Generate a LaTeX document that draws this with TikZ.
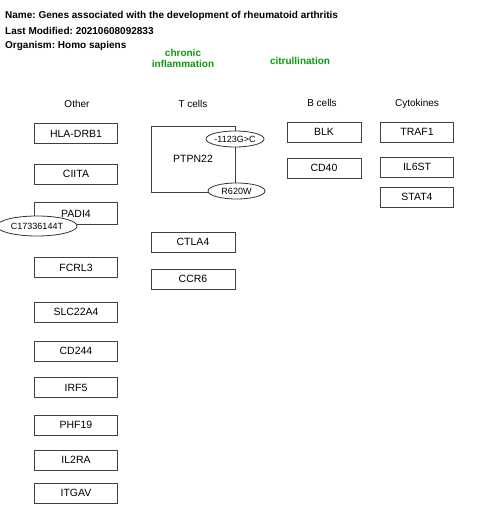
\documentclass[tikz,border=0pt]{standalone}
\usepackage{fontspec}
\setmainfont{Liberation Sans}
\usetikzlibrary{shapes.geometric}
\definecolor{labgreen}{RGB}{17,153,17}
\frenchspacing
\begin{document}
\begin{tikzpicture}[x=1pt,y=-1pt,
  gene/.style={draw=black!75,line width=0.8pt,minimum height=20pt,inner sep=0pt,font=\fontsize{10.5}{12}\selectfont},
  othergene/.style={gene,minimum width=83pt},
  tgene/.style={gene,minimum width=84pt},
  bgene/.style={gene,minimum width=74pt},
  cgene/.style={gene,minimum width=73pt},
  variant/.style={ellipse,draw=black!80,line width=0.8pt,fill=white,inner sep=0pt,font=\fontsize{9}{10}\selectfont},
  header/.style={font=\fontsize{10}{12}\selectfont},
  titletext/.style={anchor=west,inner sep=0pt,font=\bfseries\fontsize{10}{12}\selectfont},
  greenlabel/.style={text=labgreen,align=center,font=\bfseries\fontsize{10}{11}\selectfont}]
\useasboundingbox (0,0) rectangle (480,529);
% title
\node[titletext] (name) at (5,15.5) {Name: Genes associated with the development of rheumatoid arthritis};
\node[titletext] (mod) at (5,31) {Last Modified: 20210608092833};
\node[titletext] (org) at (5,45.5) {Organism: Homo sapiens};
% green labels
\node[greenlabel] (chronic) at (183,58.5) {chronic\\inflammation};
\node[greenlabel] (citr) at (300,61) {citrullination};
% headers
\node[header] (hOther) at (77,104) {Other};
\node[header] (hT) at (193,104) {T cells};
\node[header] (hB) at (322,103) {B cells};
\node[header] (hC) at (417,103.5) {Cytokines};
% Other
\node[othergene] (hla) at (76,133.5) {HLA-DRB1};
\node[othergene] (ciita) at (76,174) {CIITA};
\node[othergene,minimum height=22pt] (padi4) at (76,213.5) {PADI4};
\node[othergene] (fcrl3) at (76,267.5) {FCRL3};
\node[othergene] (slc) at (76,312) {SLC22A4};
\node[othergene] (cd244) at (76,351) {CD244};
\node[othergene] (irf5) at (76,387.5) {IRF5};
\node[othergene] (phf19) at (76,425) {PHF19};
\node[othergene] (il2ra) at (76,460) {IL2RA};
\node[othergene] (itgav) at (76,493) {ITGAV};
\node[variant,minimum width=80pt,minimum height=20pt] (c173) at (37,226) {C17336144T};
% T cells
\node[tgene,minimum height=66pt] (ptpn22) at (193,159) {PTPN22};
\node[variant,minimum width=57pt,minimum height=16pt] (v1123) at (235,139) {-1123G>C};
\node[variant,minimum width=57pt,minimum height=16pt] (r620w) at (236.5,191) {R620W};
\node[tgene] (ctla4) at (193,242) {CTLA4};
\node[tgene] (ccr6) at (193,279) {CCR6};
% B cells
\node[bgene] (blk) at (324,132) {BLK};
\node[bgene] (cd40) at (324,168) {CD40};
% Cytokines
\node[cgene] (traf1) at (417,132) {TRAF1};
\node[cgene] (il6st) at (417,167) {IL6ST};
\node[cgene] (stat4) at (417,197) {STAT4};
\end{tikzpicture}
\end{document}
